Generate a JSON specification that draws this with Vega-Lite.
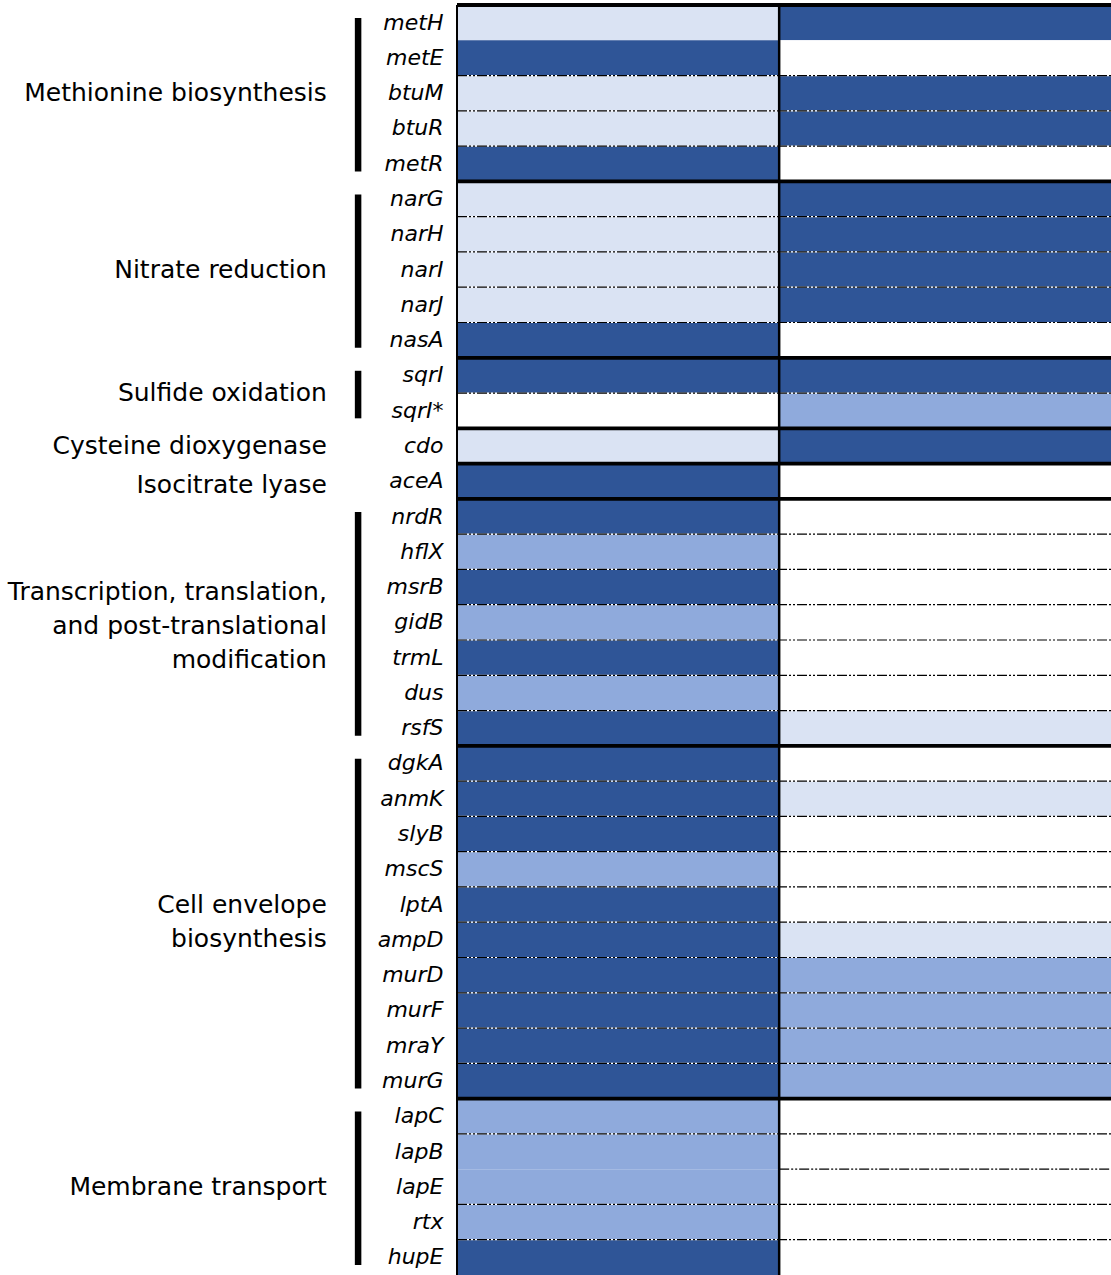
{
  "$schema": "https://vega.github.io/schema/vega-lite/v6.json",
  "width": 654,
  "height": 1270,
  "autosize": {"type": "none"},
  "padding": {"left": 457, "top": 5, "right": 0, "bottom": 0},
  "background": "white",
  "config": {"view": {"stroke": null}},
  "datasets": {
    "cells": [
      {"gene": "metH", "x0": 0, "x1": 1, "level": 1}, {"gene": "metH", "x0": 1, "x1": 2.03, "level": 3},
      {"gene": "metE", "x0": 0, "x1": 1, "level": 3}, {"gene": "metE", "x0": 1, "x1": 2.03, "level": 0},
      {"gene": "btuM", "x0": 0, "x1": 1, "level": 1}, {"gene": "btuM", "x0": 1, "x1": 2.03, "level": 3},
      {"gene": "btuR", "x0": 0, "x1": 1, "level": 1}, {"gene": "btuR", "x0": 1, "x1": 2.03, "level": 3},
      {"gene": "metR", "x0": 0, "x1": 1, "level": 3}, {"gene": "metR", "x0": 1, "x1": 2.03, "level": 0},
      {"gene": "narG", "x0": 0, "x1": 1, "level": 1}, {"gene": "narG", "x0": 1, "x1": 2.03, "level": 3},
      {"gene": "narH", "x0": 0, "x1": 1, "level": 1}, {"gene": "narH", "x0": 1, "x1": 2.03, "level": 3},
      {"gene": "narI", "x0": 0, "x1": 1, "level": 1}, {"gene": "narI", "x0": 1, "x1": 2.03, "level": 3},
      {"gene": "narJ", "x0": 0, "x1": 1, "level": 1}, {"gene": "narJ", "x0": 1, "x1": 2.03, "level": 3},
      {"gene": "nasA", "x0": 0, "x1": 1, "level": 3}, {"gene": "nasA", "x0": 1, "x1": 2.03, "level": 0},
      {"gene": "sqrI", "x0": 0, "x1": 1, "level": 3}, {"gene": "sqrI", "x0": 1, "x1": 2.03, "level": 3},
      {"gene": "sqrI*", "x0": 0, "x1": 1, "level": 0}, {"gene": "sqrI*", "x0": 1, "x1": 2.03, "level": 2},
      {"gene": "cdo", "x0": 0, "x1": 1, "level": 1}, {"gene": "cdo", "x0": 1, "x1": 2.03, "level": 3},
      {"gene": "aceA", "x0": 0, "x1": 1, "level": 3}, {"gene": "aceA", "x0": 1, "x1": 2.03, "level": 0},
      {"gene": "nrdR", "x0": 0, "x1": 1, "level": 3}, {"gene": "nrdR", "x0": 1, "x1": 2.03, "level": 0},
      {"gene": "hflX", "x0": 0, "x1": 1, "level": 2}, {"gene": "hflX", "x0": 1, "x1": 2.03, "level": 0},
      {"gene": "msrB", "x0": 0, "x1": 1, "level": 3}, {"gene": "msrB", "x0": 1, "x1": 2.03, "level": 0},
      {"gene": "gidB", "x0": 0, "x1": 1, "level": 2}, {"gene": "gidB", "x0": 1, "x1": 2.03, "level": 0},
      {"gene": "trmL", "x0": 0, "x1": 1, "level": 3}, {"gene": "trmL", "x0": 1, "x1": 2.03, "level": 0},
      {"gene": "dus", "x0": 0, "x1": 1, "level": 2}, {"gene": "dus", "x0": 1, "x1": 2.03, "level": 0},
      {"gene": "rsfS", "x0": 0, "x1": 1, "level": 3}, {"gene": "rsfS", "x0": 1, "x1": 2.03, "level": 1},
      {"gene": "dgkA", "x0": 0, "x1": 1, "level": 3}, {"gene": "dgkA", "x0": 1, "x1": 2.03, "level": 0},
      {"gene": "anmK", "x0": 0, "x1": 1, "level": 3}, {"gene": "anmK", "x0": 1, "x1": 2.03, "level": 1},
      {"gene": "slyB", "x0": 0, "x1": 1, "level": 3}, {"gene": "slyB", "x0": 1, "x1": 2.03, "level": 0},
      {"gene": "mscS", "x0": 0, "x1": 1, "level": 2}, {"gene": "mscS", "x0": 1, "x1": 2.03, "level": 0},
      {"gene": "lptA", "x0": 0, "x1": 1, "level": 3}, {"gene": "lptA", "x0": 1, "x1": 2.03, "level": 0},
      {"gene": "ampD", "x0": 0, "x1": 1, "level": 3}, {"gene": "ampD", "x0": 1, "x1": 2.03, "level": 1},
      {"gene": "murD", "x0": 0, "x1": 1, "level": 3}, {"gene": "murD", "x0": 1, "x1": 2.03, "level": 2},
      {"gene": "murF", "x0": 0, "x1": 1, "level": 3}, {"gene": "murF", "x0": 1, "x1": 2.03, "level": 2},
      {"gene": "mraY", "x0": 0, "x1": 1, "level": 3}, {"gene": "mraY", "x0": 1, "x1": 2.03, "level": 2},
      {"gene": "murG", "x0": 0, "x1": 1, "level": 3}, {"gene": "murG", "x0": 1, "x1": 2.03, "level": 2},
      {"gene": "lapC", "x0": 0, "x1": 1, "level": 2}, {"gene": "lapC", "x0": 1, "x1": 2.03, "level": 0},
      {"gene": "lapB", "x0": 0, "x1": 1, "level": 2}, {"gene": "lapB", "x0": 1, "x1": 2.03, "level": 0},
      {"gene": "lapE", "x0": 0, "x1": 1, "level": 2}, {"gene": "lapE", "x0": 1, "x1": 2.03, "level": 0},
      {"gene": "rtx", "x0": 0, "x1": 1, "level": 2}, {"gene": "rtx", "x0": 1, "x1": 2.03, "level": 0},
      {"gene": "hupE", "x0": 0, "x1": 1, "level": 3}, {"gene": "hupE", "x0": 1, "x1": 2.03, "level": 0}
    ],
    "dots": [
      {"gene": "btuM", "x0": 0, "x1": 2.03}, {"gene": "btuR", "x0": 0, "x1": 2.03}, {"gene": "metR", "x0": 0, "x1": 2.03},
      {"gene": "narH", "x0": 0, "x1": 2.03}, {"gene": "narI", "x0": 0, "x1": 2.03}, {"gene": "narJ", "x0": 0, "x1": 2.03}, {"gene": "nasA", "x0": 0, "x1": 2.03},
      {"gene": "sqrI*", "x0": 0, "x1": 2.03},
      {"gene": "hflX", "x0": 0, "x1": 2.03}, {"gene": "msrB", "x0": 0, "x1": 2.03}, {"gene": "gidB", "x0": 0, "x1": 2.03},
      {"gene": "trmL", "x0": 0, "x1": 2.03}, {"gene": "dus", "x0": 0, "x1": 2.03}, {"gene": "rsfS", "x0": 0, "x1": 2.03},
      {"gene": "anmK", "x0": 0, "x1": 2.03}, {"gene": "slyB", "x0": 0, "x1": 2.03}, {"gene": "mscS", "x0": 0, "x1": 2.03},
      {"gene": "lptA", "x0": 0, "x1": 2.03}, {"gene": "ampD", "x0": 0, "x1": 2.03}, {"gene": "murD", "x0": 0, "x1": 2.03},
      {"gene": "murF", "x0": 0, "x1": 2.03}, {"gene": "mraY", "x0": 0, "x1": 2.03}, {"gene": "murG", "x0": 0, "x1": 2.03},
      {"gene": "lapB", "x0": 0, "x1": 2.03}, {"gene": "lapE", "x0": 1, "x1": 2.03}, {"gene": "rtx", "x0": 0, "x1": 2.03}, {"gene": "hupE", "x0": 0, "x1": 2.03}
    ],
    "seps": [
      {"gene": "metH"}, {"gene": "narG"}, {"gene": "sqrI"}, {"gene": "cdo"}, {"gene": "aceA"}, {"gene": "nrdR"}, {"gene": "dgkA"}, {"gene": "lapC"}
    ],
    "groups": [
      {"label": "Methionine biosynthesis", "start": 0, "end": 5, "mid": 2.5, "lines": 1, "bar": true},
      {"label": "Nitrate reduction", "start": 5, "end": 10, "mid": 7.5, "lines": 1, "bar": true},
      {"label": "Sulfide oxidation", "start": 10, "end": 12, "mid": 11, "lines": 1, "bar": true},
      {"label": "Cysteine dioxygenase", "start": 12, "end": 13, "mid": 12.5, "lines": 1, "bar": false},
      {"label": "Isocitrate lyase", "start": 13, "end": 14, "mid": 13.6, "lines": 1, "bar": false},
      {"label": "Transcription, translation,\nand post-translational\nmodification", "start": 14, "end": 21, "mid": 17.6, "lines": 3, "bar": true},
      {"label": "Cell envelope\nbiosynthesis", "start": 21, "end": 31, "mid": 26, "lines": 2, "bar": true},
      {"label": "Membrane transport", "start": 31, "end": 36, "mid": 33.5, "lines": 1, "bar": true}
    ]
  },
  "layer": [
    {
      "layer": [
        {
          "data": {"name": "cells"},
          "mark": {"type": "rect"},
          "encoding": {
            "y": {
              "field": "gene", "type": "nominal",
              "scale": {
                "domain": ["metH", "metE", "btuM", "btuR", "metR", "narG", "narH", "narI", "narJ", "nasA", "sqrI", "sqrI*", "cdo", "aceA", "nrdR", "hflX", "msrB", "gidB", "trmL", "dus", "rsfS", "dgkA", "anmK", "slyB", "mscS", "lptA", "ampD", "murD", "murF", "mraY", "murG", "lapC", "lapB", "lapE", "rtx", "hupE"],
                "paddingInner": 0, "paddingOuter": 0
              },
              "axis": {
                "title": null, "ticks": false, "domain": false,
                "labelFont": "DejaVu Sans", "labelFontStyle": "italic", "labelFontSize": 22,
                "labelColor": "black", "labelPadding": 14, "labelLimit": 0
              }
            },
            "x": {"field": "x0", "type": "quantitative", "scale": {"domain": [0, 2.03], "nice": false, "zero": false}, "axis": null},
            "x2": {"field": "x1"},
            "color": {
              "field": "level", "type": "ordinal",
              "scale": {"domain": [0, 1, 2, 3], "range": ["#FFFFFF", "#DAE3F3", "#8FAADC", "#2F5597"]},
              "legend": null
            }
          }
        },
        {
          "data": {"name": "dots"},
          "mark": {"type": "rule", "color": "white", "strokeWidth": 1.2},
          "encoding": {
            "y": {"field": "gene", "type": "nominal", "bandPosition": 0},
            "x": {"field": "x0", "type": "quantitative"},
            "x2": {"field": "x1"}
          }
        },
        {
          "data": {"name": "dots"},
          "mark": {"type": "rule", "color": "black", "strokeWidth": 1.2, "strokeDash": [10, 2, 2, 2, 2, 2]},
          "encoding": {
            "y": {"field": "gene", "type": "nominal", "bandPosition": 0},
            "x": {"field": "x0", "type": "quantitative"},
            "x2": {"field": "x1"}
          }
        },
        {
          "data": {"name": "seps"},
          "mark": {"type": "rule", "color": "black", "strokeWidth": 3.8},
          "encoding": {
            "y": {"field": "gene", "type": "nominal", "bandPosition": 0},
            "x": {"datum": 0, "type": "quantitative"},
            "x2": {"datum": 2.03}
          }
        },
        {
          "data": {"values": [{"v": 0}]},
          "mark": {"type": "rule", "color": "black", "strokeWidth": 2},
          "encoding": {"x": {"datum": 0, "type": "quantitative"}}
        },
        {
          "data": {"values": [{"v": 1}]},
          "mark": {"type": "rule", "color": "black", "strokeWidth": 2.5},
          "encoding": {"x": {"datum": 1, "type": "quantitative"}}
        }
      ]
    },
    {
      "data": {"name": "groups"},
      "layer": [
        {
          "transform": [{"filter": "datum.lines == 1"}],
          "mark": {"type": "text", "align": "right", "baseline": "middle", "font": "DejaVu Sans", "fontSize": 25, "lineBreak": "\n", "lineHeight": 34, "color": "black"},
          "encoding": {
            "x": {"datum": -0.404, "type": "quantitative"},
            "y": {"field": "mid", "type": "quantitative", "scale": {"domain": [0, 36], "reverse": true, "nice": false, "zero": false}, "axis": null},
            "text": {"field": "label"}
          }
        },
        {
          "transform": [{"filter": "datum.lines == 2"}],
          "mark": {"type": "text", "align": "right", "baseline": "middle", "font": "DejaVu Sans", "fontSize": 25, "lineBreak": "\n", "lineHeight": 34, "dy": -17, "color": "black"},
          "encoding": {
            "x": {"datum": -0.404, "type": "quantitative"},
            "y": {"field": "mid", "type": "quantitative"},
            "text": {"field": "label"}
          }
        },
        {
          "transform": [{"filter": "datum.lines == 3"}],
          "mark": {"type": "text", "align": "right", "baseline": "middle", "font": "DejaVu Sans", "fontSize": 25, "lineBreak": "\n", "lineHeight": 34, "dy": -34, "color": "black"},
          "encoding": {
            "x": {"datum": -0.404, "type": "quantitative"},
            "y": {"field": "mid", "type": "quantitative"},
            "text": {"field": "label"}
          }
        },
        {
          "transform": [{"filter": "datum.bar"}],
          "mark": {"type": "rule", "color": "black", "strokeWidth": 6.5, "yOffset": 13, "y2Offset": -10},
          "encoding": {
            "x": {"datum": -0.307, "type": "quantitative"},
            "y": {"field": "start", "type": "quantitative"},
            "y2": {"field": "end"}
          }
        }
      ]
    }
  ],
  "resolve": {"scale": {"y": "independent"}}
}
